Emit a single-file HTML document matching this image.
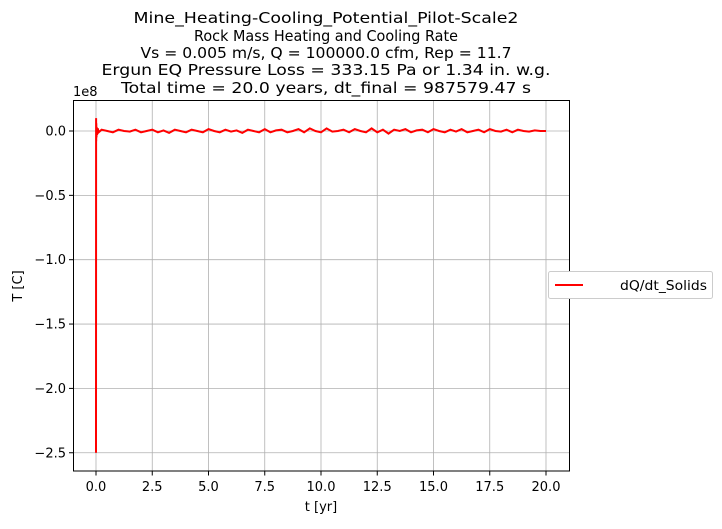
<!DOCTYPE html>
<html><head><meta charset="utf-8"><style>
body{margin:0;background:#fff;}
svg text{font-family:"DejaVu Sans","Liberation Sans",sans-serif;fill:#000;}
</style></head><body>
<svg width="722" height="524" viewBox="0 0 722 524">
<g font-size="15.5" text-anchor="middle">
<text x="326" y="23" textLength="385" lengthAdjust="spacingAndGlyphs">Mine_Heating-Cooling_Potential_Pilot-Scale2</text>
<text x="326" y="41" textLength="264" lengthAdjust="spacingAndGlyphs">Rock Mass Heating and Cooling Rate</text>
<text x="326" y="58" textLength="371" lengthAdjust="spacingAndGlyphs">Vs = 0.005 m/s, Q = 100000.0 cfm, Rep = 11.7</text>
<text x="326" y="75" textLength="449" lengthAdjust="spacingAndGlyphs">Ergun EQ Pressure Loss = 333.15 Pa or 1.34 in. w.g.</text>
<text x="326" y="93" textLength="410" lengthAdjust="spacingAndGlyphs">Total time = 20.0 years, dt_final = 987579.47 s</text>
</g>
<g id="grid"></g>
<g id="ticks" font-size="13"></g>
<path id="line" fill="none" stroke="red" stroke-width="2"/>
<rect x="73.5" y="100.5" width="496" height="370.5" fill="none" stroke="#000" stroke-width="1"/>
<text x="73" y="96" font-size="13">1e8</text>
<text x="321" y="511" font-size="13" text-anchor="middle">t [yr]</text>
<text x="22" y="286" font-size="13" text-anchor="middle" transform="rotate(-90 22 286)">T [C]</text>
<g>
<rect x="548.5" y="271.5" width="164" height="27" rx="2" fill="#fff" stroke="#ccc"/>
<line x1="555" y1="285" x2="583" y2="285" stroke="red" stroke-width="2"/>
<text x="620" y="290" font-size="13" textLength="87" lengthAdjust="spacingAndGlyphs">dQ/dt_Solids</text>
</g>
</svg>
<script>
const xTicks=[0,2.5,5,7.5,10,12.5,15,17.5,20];
const xTickLabels=["0.0","2.5","5.0","7.5","10.0","12.5","15.0","17.5","20.0"];
const yTicks=[0,-0.5,-1,-1.5,-2,-2.5];
const yTickLabels=["0.0","−0.5","−1.0","−1.5","−2.0","−2.5"];
// early transient (t in yr, value in 1e8)
const spikeT=[0,0.005,0.01,0.015,0.02,0.03,0.05,0.08,0.12];
const spikeV=[-2.5,0.1,-0.08,0.06,-0.05,0.03,-0.03,0.02,-0.01];
// slow oscillation, value every 0.25 yr from 0.25 to 20 (1e8)
const oscV=[0.01,0.0,-0.01,0.01,0.0,-0.005,0.01,-0.01,0.0,0.01,-0.01,0.005,-0.015,0.01,0.0,-0.01,0.01,0.0,-0.01,0.015,0.0,-0.01,0.01,-0.005,0.005,-0.015,0.01,0.0,-0.01,0.015,-0.01,0.005,0.01,-0.01,0.0,0.015,-0.01,0.02,0.0,-0.01,0.02,-0.005,0.0,0.01,-0.01,0.015,0.0,-0.01,0.02,-0.01,0.01,-0.02,0.01,0.0,0.015,-0.01,0.005,0.01,-0.01,0.015,0.0,-0.01,0.01,-0.005,0.015,-0.01,0.0,0.01,-0.01,0.015,0.0,-0.005,0.01,-0.01,0.01,0.0,-0.005,0.005,0.0,0.0];
const X=t=>96+t*22.5, Y=v=>131-v*128.7;
const ns="http://www.w3.org/2000/svg";
const grid=document.getElementById('grid'), ticks=document.getElementById('ticks');
xTicks.forEach((t,i)=>{
 const l=document.createElementNS(ns,'line');
 
 
 l.setAttribute('x1',X(t));l.setAttribute('x2',X(t));l.setAttribute('y1',100.5);l.setAttribute('y2',471);
 l.setAttribute('stroke','#b0b0b0');l.setAttribute('stroke-width','0.8');grid.appendChild(l);
 const k=document.createElementNS(ns,'line');
 k.setAttribute('x1',X(t));k.setAttribute('x2',X(t));k.setAttribute('y1',471);k.setAttribute('y2',475.5);k.setAttribute('stroke','#000');ticks.appendChild(k);
 const tx=document.createElementNS(ns,'text');
 
 
 tx.setAttribute('x',X(t));tx.setAttribute('y',491);tx.setAttribute('text-anchor','middle');tx.textContent=xTickLabels[i];ticks.appendChild(tx);
});
yTicks.forEach((v,i)=>{
 const l=document.createElementNS(ns,'line');
 
 
 l.setAttribute('x1',73.5);l.setAttribute('x2',569.5);l.setAttribute('y1',Y(v));l.setAttribute('y2',Y(v));
 l.setAttribute('stroke','#b0b0b0');l.setAttribute('stroke-width','0.8');grid.appendChild(l);
 const k=document.createElementNS(ns,'line');
 k.setAttribute('x1',69);k.setAttribute('x2',73.5);k.setAttribute('y1',Y(v));k.setAttribute('y2',Y(v));k.setAttribute('stroke','#000');ticks.appendChild(k);
 const tx=document.createElementNS(ns,'text');
 
 
 tx.setAttribute('x',66);tx.setAttribute('y',Y(v)+4.5);tx.setAttribute('text-anchor','end');tx.textContent=yTickLabels[i];ticks.appendChild(tx);
});
let d='';
spikeT.forEach((t,i)=>{d+=(i?'L':'M')+X(t).toFixed(1)+','+Y(spikeV[i]).toFixed(1);});
oscV.forEach((v,i)=>{d+='L'+X(0.25*(i+1)).toFixed(1)+','+Y(v).toFixed(1);});
document.getElementById('line').setAttribute('d',d);
</script>
</body></html>
